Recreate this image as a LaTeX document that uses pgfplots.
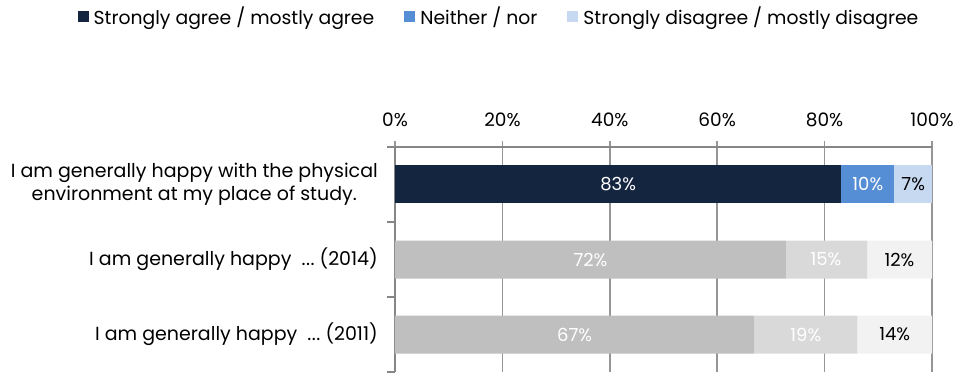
\documentclass[border=0pt]{standalone}
\usepackage{pgfplots}
\pgfplotsset{compat=1.18}
\usepackage{fontspec}
\setmainfont{Poppins}
\definecolor{navy}{RGB}{20,37,64}
\definecolor{midblue}{RGB}{85,142,213}
\definecolor{lightblue}{RGB}{198,217,241}
\definecolor{gA}{RGB}{191,191,191}
\definecolor{gB}{RGB}{217,217,217}
\definecolor{gC}{RGB}{242,242,242}
\definecolor{axgray}{RGB}{134,134,134}
\definecolor{gridgray}{RGB}{150,150,150}
\newcommand{\dotsx}{.\kern0.5pt.\kern0.5pt.}
\begin{document}
\begin{tikzpicture}[x=1pt,y=1pt]
\useasboundingbox (0,0) rectangle (961,-374);
\pgfplotsset{
  base/.style={
    at={(395pt,-147pt)}, anchor=north west,
    scale only axis, width=537pt, height=225pt,
    xmin=0, xmax=100, ymin=-0.5, ymax=2.5,
  }
}
\begin{axis}[base,
  xbar stacked, bar width=38pt,
  /pgf/number format/assume math mode=true,
  axis x line*=top, axis y line*=left,
  axis line style={axgray, line width=1.5pt},
  xtick={0,20,40,60,80,100},
  xticklabel={\pgfmathprintnumber{\tick}\%},
  xticklabel style={font=\fontsize{18.5}{20}\selectfont, inner sep=0pt, anchor=base, yshift=14pt},
  x tick style={gridgray, line width=1.5pt},
  tick align=outside, major tick length=6pt,
  xmajorgrids, grid style={gridgray, line width=1.5pt},
  ytick={0,1,2},
  yticklabels={{I am generally happy\ \ \dotsx\ (2011)}, {I am generally happy\ \ \dotsx\ (2014)}, {I am generally happy with the physical\\environment at my place of study.}},
  yticklabel style={align=center, font=\fontsize{19}{23}\selectfont, inner sep=0pt, xshift=-11pt},
  y tick style={draw=none},
  extra y ticks={-0.5,0.5,1.5,2.5},
  extra y tick labels={},
  extra y tick style={y tick style={draw=axgray, line width=1.5pt}, major tick length=8pt, tick align=outside, ymajorgrids=false},
  legend columns=3,
  legend style={draw=none, at={(0.1937,1.58)}, anchor=center, font=\fontsize{18.8}{20}\selectfont,
    /tikz/every even column/.append style={column sep=28pt},
    /tikz/every odd column/.append style={column sep=3pt}, inner sep=0pt},
  legend image code/.code={\fill[#1] (0pt,-5.5pt) rectangle (11pt,5.5pt);},
]
\addplot[fill=navy, draw=none] coordinates {(0,0) (0,1) (83.1,2)};
\addplot[fill=midblue, draw=none] coordinates {(0,0) (0,1) (9.9,2)};
\addplot[fill=lightblue, draw=none] coordinates {(0,0) (0,1) (7.0,2)};
\addplot[fill=gA, draw=none, forget plot] coordinates {(66.9,0) (72.8,1) (0,2)};
\addplot[fill=gB, draw=none, forget plot] coordinates {(19.2,0) (15.1,1) (0,2)};
\addplot[fill=gC, draw=none, forget plot] coordinates {(13.9,0) (12.1,1) (0,2)};
\legend{Strongly agree / mostly agree, Neither / nor, Strongly disagree / mostly disagree}
\end{axis}
\begin{axis}[base, hide axis]
\addplot[only marks, mark=none, nodes near coords, point meta=explicit symbolic,
  every node near coord/.style={anchor=center, text=white, font=\fontsize{18}{20}\selectfont}]
  coordinates {(41.55,2) [83\%] (88.05,2) [10\%] (36.4,1) [72\%] (80.25,1) [15\%] (33.45,0) [67\%] (76.5,0) [19\%]};
\addplot[only marks, mark=none, nodes near coords, point meta=explicit symbolic,
  every node near coord/.style={anchor=center, text=black, font=\fontsize{18}{20}\selectfont}]
  coordinates {(96.5,2) [7\%] (93.95,1) [12\%] (93.05,0) [14\%]};
\end{axis}
\end{tikzpicture}
\end{document}
